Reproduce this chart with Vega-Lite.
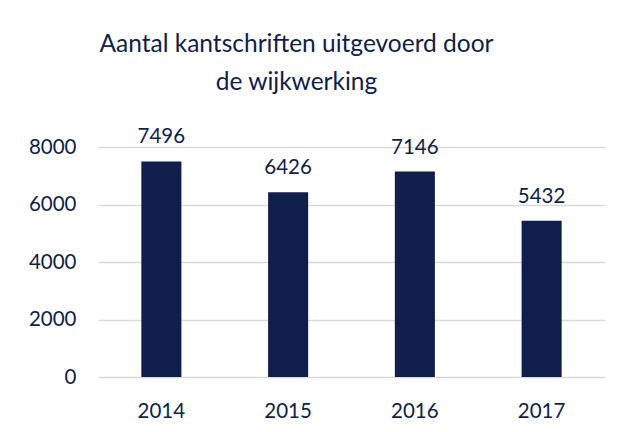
{
  "$schema": "https://vega.github.io/schema/vega-lite/v6.json",
  "autosize": "none",
  "width": 507,
  "height": 230,
  "padding": {"left": 98, "top": 147, "right": 17, "bottom": 55},
  "background": "white",
  "title": {
    "text": ["Aantal kantschriften uitgevoerd door", "de wijkwerking"],
    "font": "Lato",
    "fontSize": 24.5,
    "fontWeight": "normal",
    "color": "#0f1e4b",
    "anchor": "middle",
    "dx": -55,
    "offset": 32,
    "lineHeight": 38
  },
  "data": {
    "values": [
      {"year": "2014", "count": 7496},
      {"year": "2015", "count": 6426},
      {"year": "2016", "count": 7146},
      {"year": "2017", "count": 5432}
    ]
  },
  "encoding": {
    "x": {
      "field": "year",
      "type": "nominal",
      "title": null,
      "scale": {"paddingInner": 0.684, "paddingOuter": 0.342},
      "axis": {
        "labelAngle": 0,
        "ticks": false,
        "domain": false,
        "labelFont": "Lato",
        "labelFontSize": 20.5,
        "labelColor": "#0f1e4b",
        "labelPadding": 24
      }
    },
    "y": {
      "field": "count",
      "type": "quantitative",
      "title": null,
      "scale": {"domain": [0, 8000]},
      "axis": {
        "values": [0, 2000, 4000, 6000, 8000],
        "format": "d",
        "ticks": false,
        "domain": false,
        "grid": true,
        "gridColor": "#d9d9d9",
        "gridWidth": 1.5,
        "labelFont": "Lato",
        "labelFontSize": 20.5,
        "labelColor": "#0f1e4b",
        "labelPadding": 22
      }
    }
  },
  "layer": [
    {"mark": {"type": "bar", "color": "#0f1e4b"}},
    {
      "mark": {"type": "text", "font": "Lato", "fontSize": 20.5, "color": "#0f1e4b", "baseline": "alphabetic", "dy": -18},
      "encoding": {"text": {"field": "count", "type": "quantitative", "format": "d"}}
    }
  ],
  "config": {"view": {"stroke": null}}
}
